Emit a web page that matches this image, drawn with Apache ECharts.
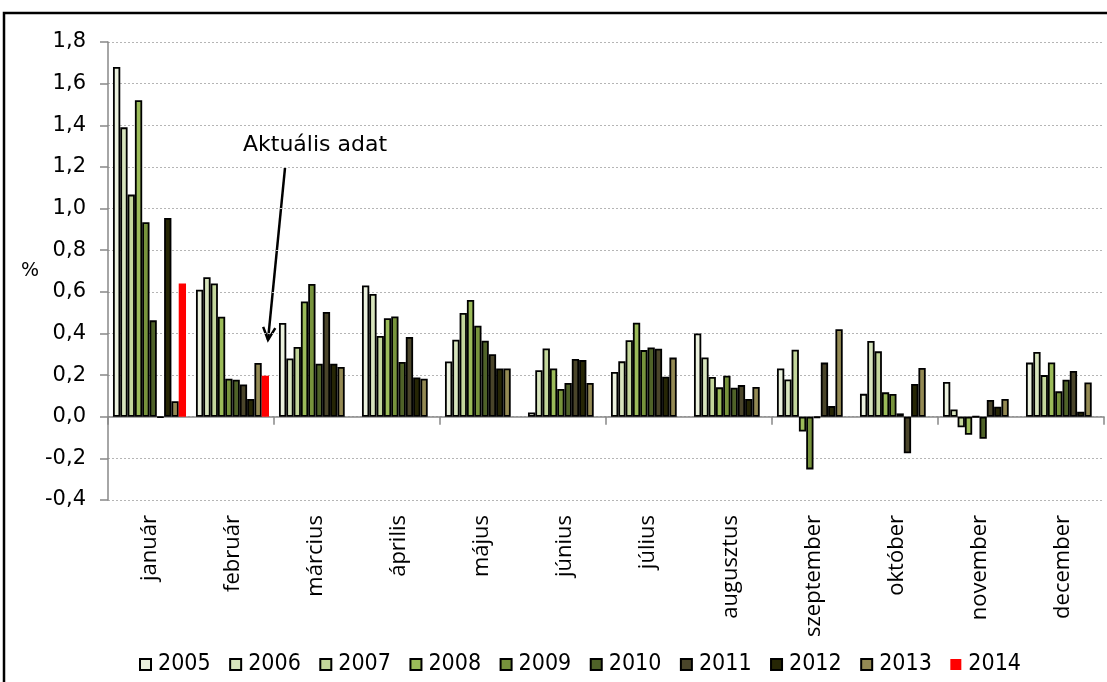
<!DOCTYPE html>
<html>
	<head>
		<meta charset="utf-8">
		<title></title>
		<script src="https://cdn.jsdelivr.net/npm/echarts@6/dist/echarts.min.js"></script>
		<style>
			html, body { margin: 0; padding: 0; background: #fff; }
		</style>
	</head>
	<body>
		<div id="main" style="width: 1107px; height: 682px;"></div>
		<script type="text/javascript">
			// adatok
			var months = ['január', 'február', 'március', 'április', 'május', 'június',
				'július', 'augusztus', 'szeptember', 'október', 'november', 'december'];
			var years = ['2005', '2006', '2007', '2008', '2009', '2010', '2011', '2012', '2013', '2014'];
			var colors = ['#EBF1DE', '#D7E4BD', '#C3D69B', '#9BBB59', '#77933C', '#4F6228',
				'#4A452A', '#262605', '#948A54', '#FF0000'];
			var yTicks = { min: -0.4, max: 1.8, step: 0.2 };

			var v2005 = [1.68, 0.61, 0.45, 0.63, 0.265, 0.02, 0.215, 0.40, 0.232, 0.11, 0.167, 0.26];
			var v2006 = [1.39, 0.67, 0.28, 0.59, 0.37, 0.223, 0.266, 0.285, 0.179, 0.364, 0.035, 0.311];
			var v2007 = [1.067, 0.64, 0.335, 0.388, 0.498, 0.328, 0.367, 0.191, 0.322, 0.314, -0.051, 0.20];
			var v2008 = [1.52, 0.48, 0.554, 0.473, 0.561, 0.232, 0.452, 0.141, -0.071, 0.117, -0.087, 0.261];
			var v2009 = [0.934, 0.183, 0.638, 0.482, 0.437, 0.133, 0.32, 0.197, -0.253, 0.109, 0, 0.122];
			var v2010 = [0.463, 0.178, 0.255, 0.263, 0.365, 0.162, 0.333, 0.139, -0.005, 0.016, -0.106, 0.178];
			var v2011 = [-0.003, 0.155, 0.503, 0.383, 0.30, 0.277, 0.327, 0.152, 0.26, -0.176, 0.08, 0.22];
			var v2012 = [0.955, 0.085, 0.255, 0.189, 0.232, 0.272, 0.192, 0.085, 0.051, 0.157, 0.048, 0.024];
			var v2013 = [0.074, 0.258, 0.239, 0.183, 0.232, 0.162, 0.284, 0.143, 0.42, 0.234, 0.085, 0.165];
			var v2014 = [0.64, 0.197, null, null, null, null, null, null, null, null, null, null];
			var values = [v2005, v2006, v2007, v2008, v2009, v2010, v2011, v2012, v2013, v2014];

			var myCharts = echarts.init(document.getElementById('main'));

			var series = years.map(function (y, i) {
				var last = i === years.length - 1;
				return {
					name: y,
					type: 'bar',
					data: values[i],
					barGap: '0%',
					barCategoryGap: '12%',
					itemStyle: {
						color: colors[i],
						borderColor: last ? colors[i] : '#000',
						borderWidth: last ? 0 : 1.8
					}
				};
			});

			// nyíl a február 2014-es adathoz
			var from = [285, 168], to = [268, 340];
			var dx = to[0] - from[0], dy = to[1] - from[1];
			var len = Math.sqrt(dx * dx + dy * dy);
			var ux = dx / len, uy = dy / len;
			var head = 14, spread = 0.45;
			var h1 = [to[0] - head * (ux * Math.cos(spread) - uy * Math.sin(spread)),
				to[1] - head * (uy * Math.cos(spread) + ux * Math.sin(spread))];
			var h2 = [to[0] - head * (ux * Math.cos(spread) + uy * Math.sin(spread)),
				to[1] - head * (uy * Math.cos(spread) - ux * Math.sin(spread))];

			option = {
				animation: false,
				textStyle: { fontFamily: 'DejaVu Sans' },
				grid: { left: 108, right: 3, top: 42, bottom: 182 },
				legend: {
					top: 648,
					left: 134,
					icon: 'rect',
					itemWidth: 11,
					itemHeight: 11,
					itemGap: 18.5,
					textStyle: {
						fontSize: 23,
						fontFamily: '"DejaVu Sans Condensed", "Liberation Sans", sans-serif',
						color: '#000',
						padding: [0, 0, 0, 2]
					},
					data: years
				},
				xAxis: [{
					type: 'category',
					data: months,
					axisLine: { onZero: true, lineStyle: { color: '#888', width: 1.5 } },
					axisTick: { show: true, length: 8, lineStyle: { color: '#888', width: 1.5 } },
					axisLabel: { show: false }
				}, {
					type: 'category',
					data: months,
					position: 'bottom',
					axisLine: { show: false, onZero: false },
					axisTick: { show: false },
					axisLabel: {
						rotate: 90,
						margin: 15,
						fontSize: 22,
						fontFamily: 'Open Sans',
						color: '#000'
					}
				}],
				yAxis: {
					type: 'value',
					min: yTicks.min,
					max: yTicks.max,
					interval: yTicks.step,
					name: '%',
					nameLocation: 'middle',
					nameRotate: 0,
					nameGap: 66,
					nameTextStyle: { fontSize: 19, color: '#000' },
					axisLine: { show: true, lineStyle: { color: '#888', width: 1.5 } },
					axisTick: { show: true, length: 8, lineStyle: { color: '#888', width: 1.5 } },
					axisLabel: {
						margin: 22,
						fontSize: 21,
						color: '#000',
						formatter: function (v) { return v.toFixed(1).replace('.', ','); }
					},
					splitLine: { lineStyle: { color: '#b5b5b5', type: [2, 2], width: 1 } }
				},
				graphic: [{
					type: 'rect',
					shape: { x: 4, y: 13, width: 1200, height: 800 },
					style: { fill: 'none', stroke: '#000', lineWidth: 2.5 },
					silent: true
				}, {
					type: 'text',
					left: 243,
					top: 134,
					style: { text: 'Aktuális adat', font: '22px "DejaVu Sans"', fill: '#000' }
				}, {
					type: 'polyline',
					shape: { points: [from, to] },
					style: { stroke: '#000', lineWidth: 2.5 }
				}, {
					type: 'polyline',
					shape: { points: [h1, to, h2] },
					style: { stroke: '#000', lineWidth: 2.5, fill: null }
				}],
				series: series
			};
			myCharts.setOption(option);
		</script>
	</body>
</html>
